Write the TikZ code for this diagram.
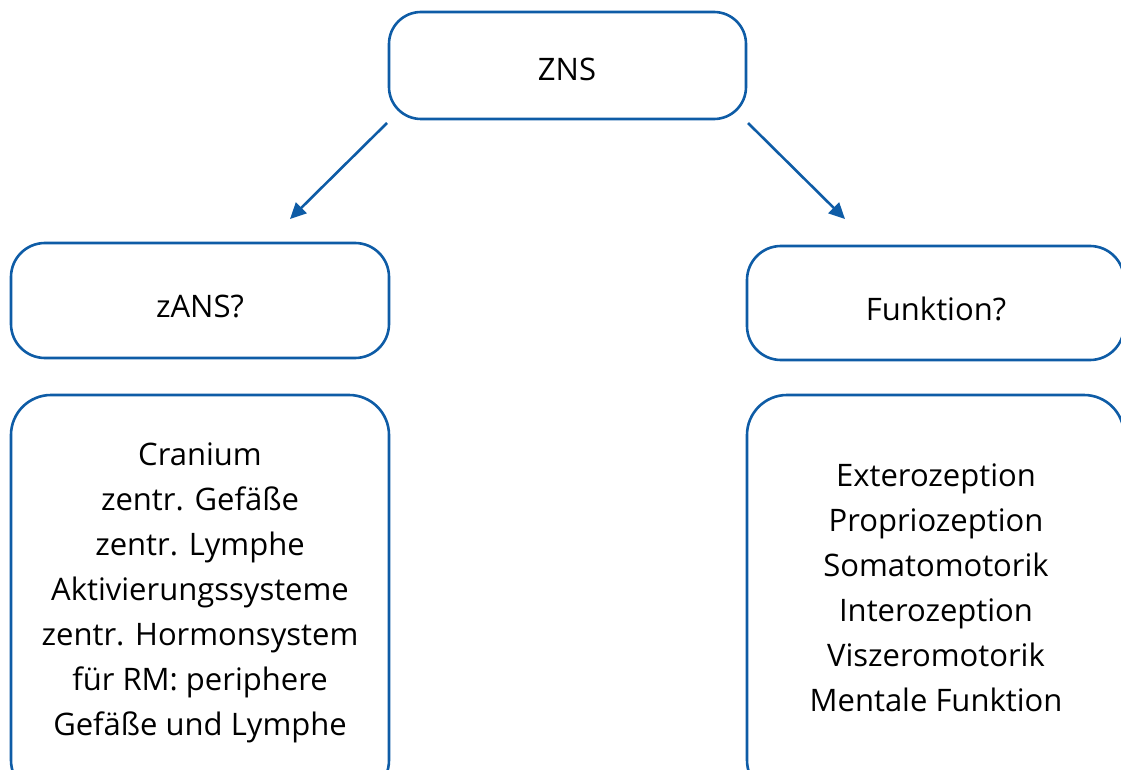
\documentclass[tikz,border=0pt]{standalone}
\usepackage{fontspec}
\setmainfont{Open Sans}
\usetikzlibrary{arrows.meta}
\definecolor{boxblue}{RGB}{14,92,166}
\begin{document}
\begin{tikzpicture}[x=1pt,y=-1pt,
  box/.style={draw=boxblue,line width=2.6pt,rounded corners=#1},
  lbl/.style={font=\fontsize{31}{45}\selectfont,align=center,inner sep=0pt,text=black},
  arr/.style={draw=boxblue,line width=2.6pt,-{Triangle[length=16pt,width=15pt]}}]
\useasboundingbox (0,0) rectangle (1121,770);
\clip (0,0) rectangle (1121,770);
% boxes
\draw[box=32pt] (389,12) rectangle (746,119);
\draw[box=34pt] (11,243) rectangle (389,358);
\draw[box=34pt] (747,246) rectangle (1124,360);
\draw[box=40pt] (11,395) rectangle (389,800);
\draw[box=40pt] (747,395) rectangle (1124,800);
% labels
\node[lbl,anchor=base] (zns) at (567,81) {ZNS};
\node[lbl,anchor=base] (zans) at (200,317) {zANS?};
\node[lbl,anchor=base] (fkt) at (936,320) {Funktion?};
\node[lbl] (left) at (200,593) {Cranium\\zentr. Gefäße\\zentr. Lymphe\\Aktivierungssysteme\\zentr. Hormonsystem\\für RM: periphere\\Gefäße und Lymphe};
\node[lbl] (right) at (936,588) {Exterozeption\\Propriozeption\\Somatomotorik\\Interozeption\\Viszeromotorik\\Mentale Funktion};
% arrows
\coordinate (a1s) at (387,123);
\coordinate (a1e) at (290,219);
\coordinate (a2s) at (748,123);
\coordinate (a2e) at (845,219);
\draw[arr] (a1s) -- (a1e);
\draw[arr] (a2s) -- (a2e);
\end{tikzpicture}
\end{document}
